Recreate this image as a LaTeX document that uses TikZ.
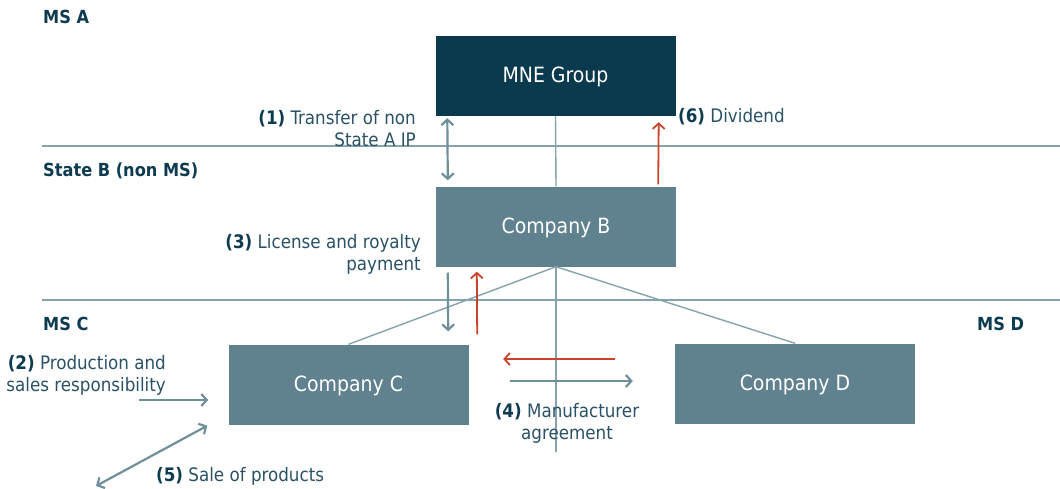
\documentclass[tikz,border=0pt]{standalone}
\usepackage{fontspec}
\setmainfont{DejaVu Sans Condensed}
\usetikzlibrary{arrows.meta}
\definecolor{navy}{HTML}{0B3A4F}
\definecolor{boxgray}{HTML}{5F828E}
\definecolor{linegray}{HTML}{86A2AC}
\definecolor{arrgray}{HTML}{6F909A}
\definecolor{arrred}{HTML}{C8442C}
\definecolor{txt}{HTML}{2A5266}
\definecolor{txtb}{HTML}{0D3B50}
\tikzset{
  box/.style={draw=none, minimum width=240pt, minimum height=80pt, inner sep=0pt, text=white, text height=13pt, text depth=0pt, font=\fontsize{21}{25}\selectfont},
  lbl/.style={inner sep=0pt, text=txt, font=\fontsize{18.6}{22}\selectfont},
  region/.style={inner sep=0pt, text=txtb, font=\fontsize{18}{20}\selectfont\bfseries},
  divider/.style={draw=linegray, line width=2.2pt},
  tie/.style={draw=linegray, line width=1.4pt},
  gflow/.style={draw=arrgray, line width=2.2pt, -{Straight Barb[length=5.5pt,width=12pt]}},
  gboth/.style={draw=arrgray, line width=2.2pt, {Straight Barb[length=5.5pt,width=12pt]}-{Straight Barb[length=5.5pt,width=12pt]}},
  rflow/.style={draw=arrred, line width=1.8pt, -{Straight Barb[length=5.5pt,width=12pt]}},
}
\newcommand{\num}[1]{\textbf{\color{txtb}#1}}
\begin{document}
\begin{tikzpicture}[x=1pt,y=-1pt]
\useasboundingbox (0,0) rectangle (1060,488);
% dividers
\coordinate (d1l) at (42,146); \coordinate (d1r) at (1060,146);
\coordinate (d2l) at (42,300); \coordinate (d2r) at (1060,300);
\draw[divider] (d1l) -- (d1r);
\draw[divider] (d2l) -- (d2r);
% region labels
\node[region, anchor=west] (msa) at (43,17) {MS A};
\node[region, anchor=west] (stb) at (43,171) {State B (non MS)};
\node[region, anchor=west] (msc) at (43,324) {MS C};
\node[region, anchor=west] (msd) at (977,324) {MS D};
% boxes
\node[box, fill=navy] (mne) at (555.5,76) {MNE Group};
\node[box, fill=boxgray] (b) at (556,226.5) {Company B};
\node[box, fill=boxgray] (c) at (348.5,384.5) {Company C};
\node[box, fill=boxgray] (d) at (795,383.5) {Company D};
% ties
\coordinate (bot) at (556,452);
\draw[tie] (mne.south) -- (b.north);
\draw[tie] (b.south) -- (c.north);
\draw[tie] (b.south) -- (d.north);
\draw[tie] (b.south) -- (bot);
% flows
\draw[gboth] ([xshift=12pt,yshift=-2pt]mne.south west) -- ([xshift=12pt,yshift=6pt]b.north west);
\draw[rflow] ([xshift=-18pt,yshift=2pt]b.north east) -- ([xshift=-17pt,yshift=-6pt]mne.south east);
\draw[gflow] ([xshift=12pt,yshift=-6pt]b.south west) -- ([xshift=-20.5pt,yshift=13pt]c.north east);
\draw[rflow] ([xshift=8.5pt,yshift=10pt]c.north east) -- ([xshift=41pt,yshift=-5pt]b.south west);
\draw[rflow] ([xshift=-60pt,yshift=24.5pt]d.west) -- ([xshift=34.5pt,yshift=25.5pt]c.east);
\draw[gflow] ([xshift=41.5pt,yshift=3.5pt]c.east) -- ([xshift=-42pt,yshift=2.5pt]d.west);
\coordinate (in2) at (139,400);
\draw[gflow] (in2) -- ([xshift=-20pt,yshift=-15.5pt]c.west);
\coordinate (out5) at (96,486);
\draw[gboth] (out5) -- ([xshift=-21pt,yshift=-1pt]c.south west);
% labels
\node[lbl, anchor=east, align=right] (l1) at (416,129) {\num{(1)} Transfer of non\\State A IP};
\node[lbl, anchor=west] (l6) at (678,117) {\num{(6)} Dividend};
\node[lbl, anchor=east, align=right] (l3) at (421,254) {\num{(3)} License and royalty\\payment};
\node[lbl, anchor=east, align=right] (l2) at (166,375) {\num{(2)} Production and\\sales responsibility};
\node[lbl, align=center] (l4) at (567,423) {\num{(4)} Manufacturer\\agreement};
\node[lbl, anchor=west] (l5) at (156,476) {\num{(5)} Sale of products};
\end{tikzpicture}
\end{document}
